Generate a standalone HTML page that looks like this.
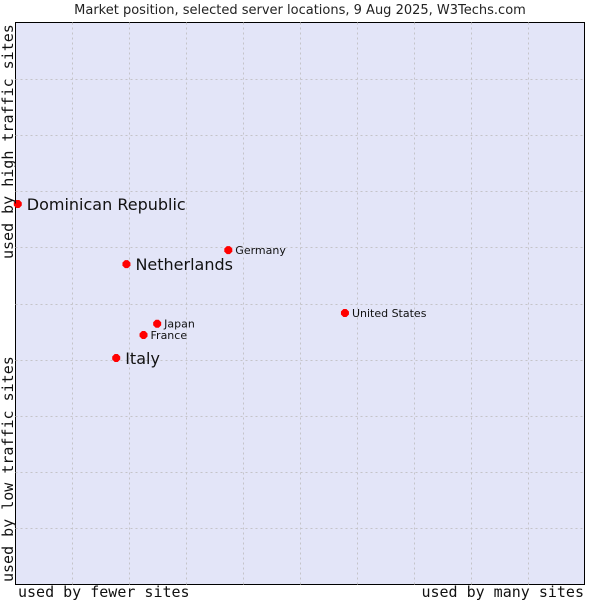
<!DOCTYPE html>
<html><head><meta charset="utf-8"><style>
body{margin:0;background:#fff;width:600px;height:600px;overflow:hidden}
</style></head><body>
<svg id="chart" width="600" height="600" xmlns="http://www.w3.org/2000/svg">
<text x="300" y="14" text-anchor="middle" font-family="DejaVu Sans, sans-serif" font-size="13" fill="#222">Market position, selected server locations, 9 Aug 2025, W3Techs.com</text>
<rect x="15.5" y="22.5" width="569" height="562" fill="#e3e5f8" stroke="#000" stroke-width="1"/>
<g id="grid"></g>
<g id="points"></g>
<text x="18" y="597" font-family="DejaVu Sans Mono, Liberation Mono, monospace" font-size="15" fill="#111">used by fewer sites</text>
<text x="584" y="597" text-anchor="end" font-family="DejaVu Sans Mono, Liberation Mono, monospace" font-size="15" fill="#111">used by many sites</text>
<text transform="translate(13,259) rotate(-90)" font-family="DejaVu Sans Mono, Liberation Mono, monospace" font-size="15" fill="#111">used by high traffic sites</text>
<text transform="translate(13,582) rotate(-90)" font-family="DejaVu Sans Mono, Liberation Mono, monospace" font-size="15" fill="#111">used by low traffic sites</text>
</svg>
<script>
const countries=["Dominican Republic","Netherlands","Germany","United States","Japan","France","Italy"];
const xValues=[0.4,19.5,37.4,57.9,24.9,22.5,17.7];
const yValues=[67.7,57.0,59.5,48.3,46.4,44.4,40.3];
const highlighted=[true,true,false,false,false,false,true];
const gridTicks=[10,20,30,40,50,60,70,80,90];
const L=15.5,R=584.5,T=22.5,B=584.5;
const sx=v=>L+(R-L)*v/100, sy=v=>B-(B-T)*v/100;
const NS="http://www.w3.org/2000/svg";
const grid=document.getElementById('grid'), pts=document.getElementById('points');
gridTicks.forEach(t=>{
 const v=document.createElementNS(NS,'line');
 
 
 const x=Math.round(sx(t))+0.5;
 v.setAttribute('x1',x);v.setAttribute('x2',x);v.setAttribute('y1',T);v.setAttribute('y2',B);
 v.setAttribute('stroke','#c4c4c8');v.setAttribute('stroke-dasharray','2,3');grid.appendChild(v);
 const h=document.createElementNS(NS,'line');
 
 
 const y=Math.round(sy(t))+0.5;
 h.setAttribute('x1',L);h.setAttribute('x2',R);h.setAttribute('y1',y);h.setAttribute('y2',y);
 h.setAttribute('stroke','#c4c4c8');h.setAttribute('stroke-dasharray','2,3');grid.appendChild(h);
});
countries.forEach((c,i)=>{
 const x=sx(xValues[i]),y=sy(yValues[i]);
 const m=document.createElementNS(NS,'polygon');
 
 
 m.setAttribute('points',`${x-4},${y-1.5} ${x-1.5},${y-4} ${x+1.5},${y-4} ${x+4},${y-1.5} ${x+4},${y+1.5} ${x+1.5},${y+4} ${x-1.5},${y+4} ${x-4},${y+1.5}`);
 m.setAttribute('fill','#f00');pts.appendChild(m);
 const t=document.createElementNS(NS,'text');
 
 
 const big=highlighted[i];
 t.setAttribute('x',x+(big?9:7));t.setAttribute('y',y+(big?6:4));
 t.setAttribute('font-family','DejaVu Sans, sans-serif');
 t.setAttribute('font-size',big?16:11);t.setAttribute('fill','#111');
 t.textContent=c;pts.appendChild(t);
});
</script>
</body></html>
